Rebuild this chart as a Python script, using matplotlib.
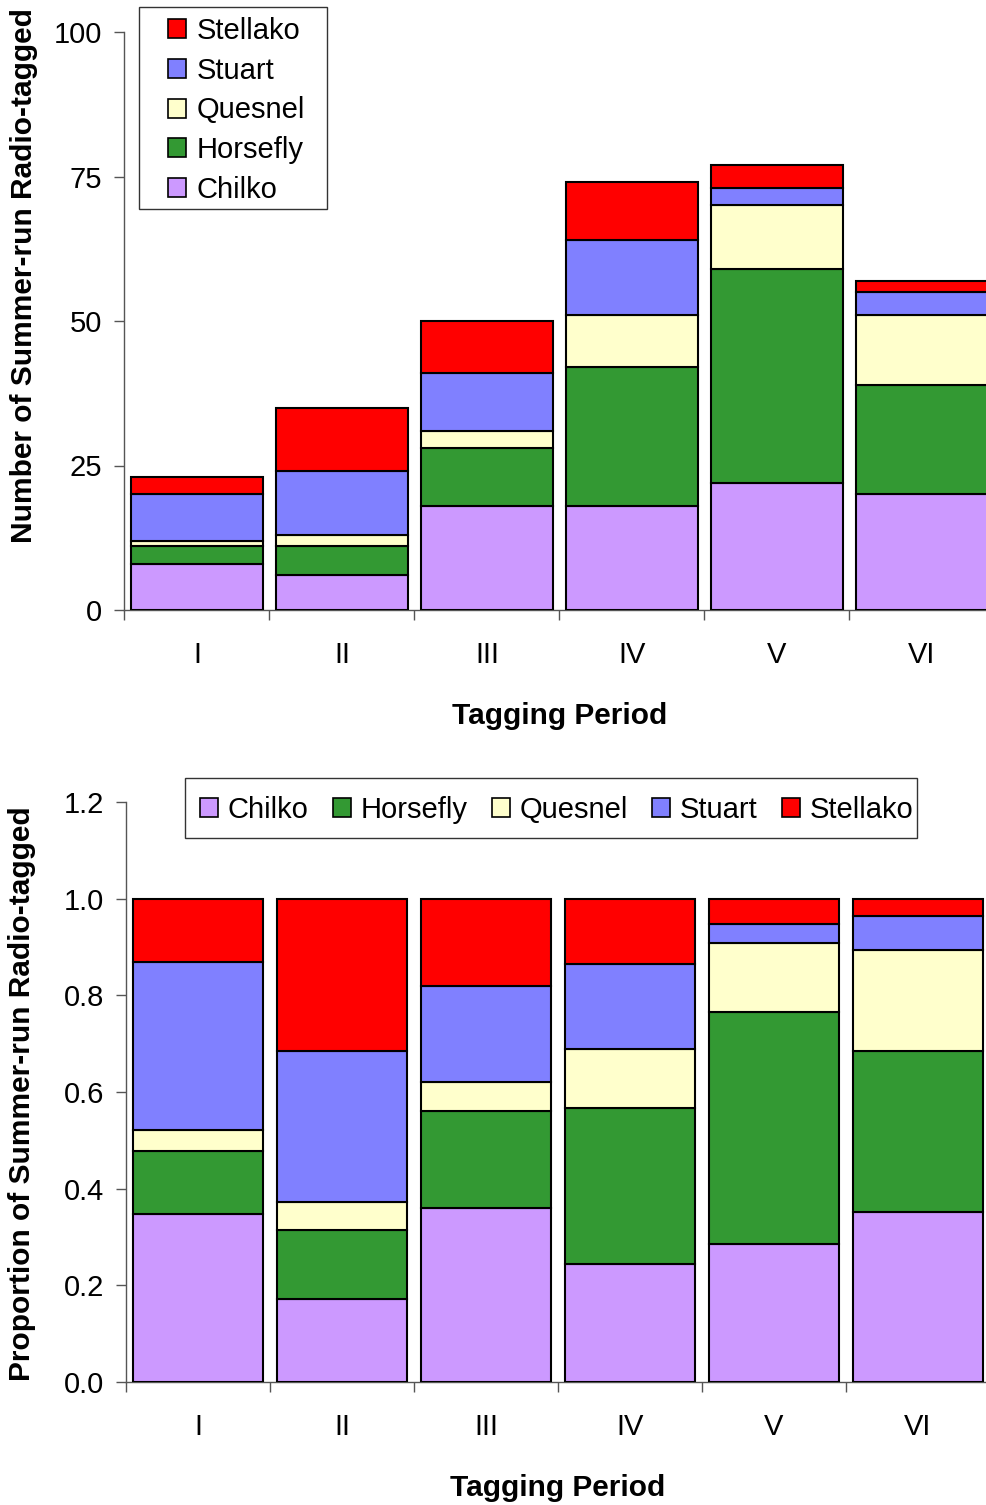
import matplotlib
matplotlib.use("Agg")
import matplotlib.pyplot as plt
import numpy as np
from matplotlib.patches import Patch, Rectangle

plt.rcParams['font.family'] = ['Liberation Sans', 'DejaVu Sans']

periods = ["I", "II", "III", "IV", "V", "VI"]
stocks = ["Chilko", "Horsefly", "Quesnel", "Stuart", "Stellako"]
chilko = [8, 6, 18, 18, 22, 20]
horsefly = [3, 5, 10, 24, 37, 19]
quesnel = [1, 2, 3, 9, 11, 12]
stuart = [8, 11, 10, 13, 3, 4]
stellako = [3, 11, 9, 10, 4, 2]
colors = ["#CC99FF", "#339933", "#FFFFCC", "#8080FF", "#FF0000"]

counts = np.array([chilko, horsefly, quesnel, stuart, stellako], dtype=float)
totals = counts.sum(axis=0)
props = counts / totals

W, H = 987, 1505
fig = plt.figure(figsize=(W / 100, H / 100), dpi=100)

def px_axes(l, r, t, b):
    return fig.add_axes([l / W, 1 - b / H, (r - l) / W, (b - t) / H])

ax1 = px_axes(124.5, 994.5, 32, 610)
ax2 = px_axes(126, 990, 802, 1382)

x = np.arange(len(periods))

def draw(ax, data, width, ylim, yticks, fmt, ylabel, ylabel_pos):
    bottom = np.zeros(len(periods))
    for i, s in enumerate(stocks):
        ax.bar(x, data[i], width, bottom=bottom, color=colors[i],
               edgecolor="black", linewidth=1.5, label=s, zorder=3)
        bottom += data[i]
    ax.set_xlim(-0.5, len(periods) - 0.5)
    ax.set_ylim(*ylim)
    ax.set_yticks(yticks)
    ax.set_yticklabels([fmt.format(v) for v in yticks])
    ax.set_xticks(x)
    ax.set_xticklabels(periods)
    ax.set_xticks(np.arange(-0.5, len(periods)), minor=True)
    ax.tick_params(axis="x", which="major", length=0, pad=22, labelsize=21)
    ax.tick_params(axis="x", which="minor", length=7, width=1, color="#555555", direction="out")
    ax.tick_params(axis="y", length=7, width=1, color="#555555", direction="out", pad=9, labelsize=21)
    for sp in ["top", "right"]:
        ax.spines[sp].set_visible(False)
    for sp in ["left", "bottom"]:
        ax.spines[sp].set_color("#555555")
        ax.spines[sp].set_linewidth(1)
    ax.set_ylabel(ylabel, fontsize=21.5, fontweight="bold")
    ax.yaxis.set_label_coords(*ylabel_pos)
    ax.set_xlabel("Tagging Period", fontsize=21.5, fontweight="bold", labelpad=24)

draw(ax1, counts, 0.91, (0, 100), [0, 25, 50, 75, 100], "{:d}",
     "Number of Summer-run Radio-tagged", (-0.0994, 0.578))
draw(ax2, props, 0.9, (0, 1.2), [0.0, 0.2, 0.4, 0.6, 0.8, 1.0, 1.2], "{:.1f}",
     "Proportion of Summer-run Radio-tagged", (-0.104, 0.497))

handles = [Patch(facecolor=c, edgecolor="black", linewidth=1.2) for c in colors]

def frame(l, t, r, b):
    fig.patches.append(Rectangle((l / W, 1 - b / H), (r - l) / W, (b - t) / H,
                                 transform=fig.transFigure, facecolor="white",
                                 edgecolor="#333333", linewidth=1, zorder=5))

frame(139, 7, 327, 209)
frame(185, 778, 917, 838)

leg1 = fig.legend(handles[::-1], stocks[::-1], loc="upper left",
                  bbox_to_anchor=(168 / W, 1 - 17 / H), bbox_transform=fig.transFigure,
                  fontsize=21, frameon=False,
                  handlelength=0.62, handleheight=0.62, handletextpad=0.36,
                  labelspacing=0.40, borderpad=0, borderaxespad=0)
leg1.set_zorder(10)

leg2 = fig.legend(handles, stocks, loc="upper left", ncol=5,
                  bbox_to_anchor=(200 / W, 1 - 796 / H), bbox_transform=fig.transFigure,
                  fontsize=21, frameon=False,
                  handlelength=0.62, handleheight=0.62, handletextpad=0.34,
                  columnspacing=0.82, borderpad=0, borderaxespad=0)
leg2.set_zorder(10)

fig.savefig("out.png", dpi=100)
